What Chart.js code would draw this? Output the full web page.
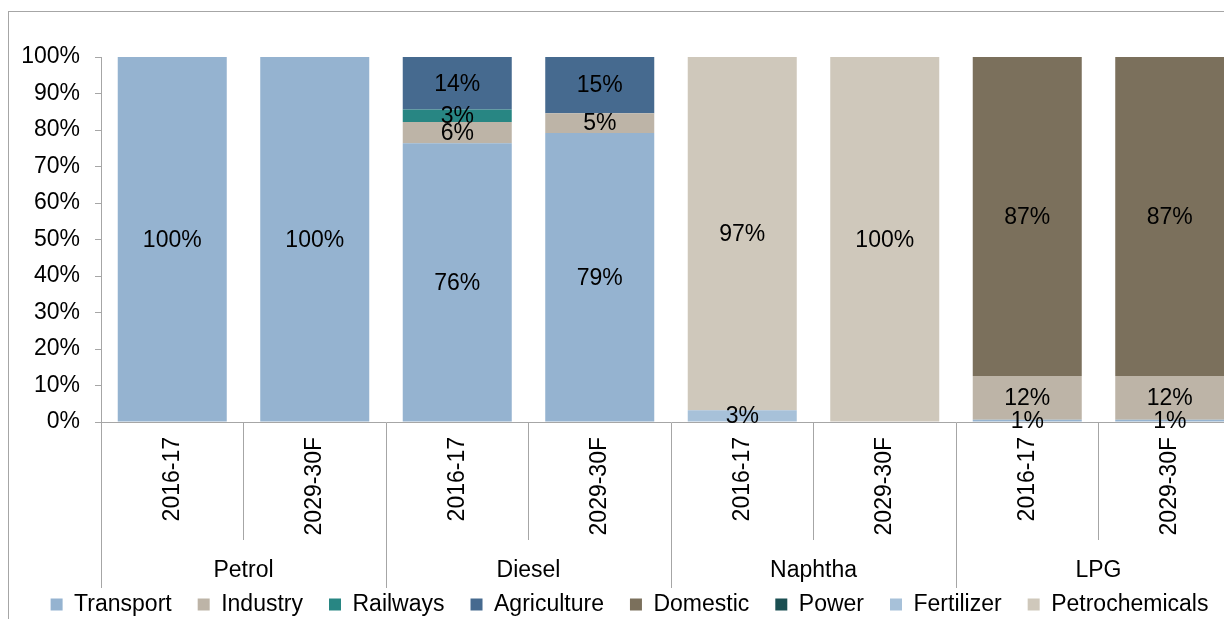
<!DOCTYPE html>
<html>
<head>
<meta charset="utf-8">
<script src="https://cdn.jsdelivr.net/npm/chart.js@4.4.1/dist/chart.umd.min.js"></script>
<style>
  html, body { margin: 0; padding: 0; background: #fff; overflow: hidden; width: 1224px; height: 619px; }
  #frame { position: absolute; left: 8px; top: 11px; width: 1400px; height: 800px;
           border-left: 1px solid #a6a6a6; border-top: 1px solid #a6a6a6; box-sizing: border-box; }
  #c { position: absolute; left: 0; top: 0; }
</style>
</head>
<body>
<div id="frame"></div>
<canvas id="c" width="1264" height="649"></canvas>
<script>
// Bars: two periods for each product
const periods = ['2016-17', '2029-30F', '2016-17', '2029-30F', '2016-17', '2029-30F', '2016-17', '2029-30F'];
const products = ['Petrol', 'Diesel', 'Naphtha', 'LPG'];

// Share of consumption by sector (%), one value per bar
const transport      = [100, 100, 76.4, 79.2, null, null, 0.6, 0.6];
const industry       = [null, null, 5.8, 5.4, null, null, 12.0, 12.0];
const railways       = [null, null, 3.4, null, null, null, null, null];
const agriculture    = [null, null, 14.4, 15.4, null, null, null, null];
const domestic       = [null, null, null, null, null, null, 87.4, 87.4];
const power          = [null, null, null, null, null, null, null, null];
const fertilizer     = [null, null, null, null, 3.2, null, null, null];
const petrochemicals = [null, null, null, null, 96.8, 100, null, null];

const yTicks = [0, 10, 20, 30, 40, 50, 60, 70, 80, 90, 100];

const FONT = '"Liberation Sans", Arial, sans-serif';
const AXIS_GREY = '#a6a6a6';
Chart.defaults.font.family = FONT;
Chart.defaults.font.size = 23;
Chart.defaults.color = '#000';

// Percentage written in the middle of every segment
const segmentLabels = {
  id: 'segmentLabels',
  afterDatasetsDraw(chart) {
    const ctx = chart.ctx;
    ctx.save();
    ctx.font = '23px ' + FONT;
    ctx.fillStyle = '#000';
    ctx.textAlign = 'center';
    ctx.textBaseline = 'middle';
    chart.data.datasets.forEach((ds, i) => {
      const meta = chart.getDatasetMeta(i);
      meta.data.forEach((el, j) => {
        const v = ds.data[j];
        if (v == null || v === 0) return;
        const p = el.getCenterPoint();
        ctx.fillText(Math.round(v) + '%', p.x, p.y + 1);
      });
    });
    ctx.restore();
  }
};

// Place the legend row centred under the whole frame, just below the product names
const LEGEND_SHIFT_X = 9;
const LEGEND_SHIFT_Y = -23;
const legendShift = {
  id: 'legendShift',
  afterLayout(chart) {
    const lg = chart.legend;
    lg.left += LEGEND_SHIFT_X;
    lg.right += LEGEND_SHIFT_X;
    lg.top += LEGEND_SHIFT_Y;
    lg.bottom += LEGEND_SHIFT_Y;
  }
};

const series = [
  ['Transport', transport, '#95b3d0'],
  ['Industry', industry, '#bdb4a7'],
  ['Railways', railways, '#288683'],
  ['Agriculture', agriculture, '#466a8f'],
  ['Domestic', domestic, '#7b705c'],
  ['Power', power, '#1b4f52'],
  ['Fertilizer', fertilizer, '#a7c1d9'],
  ['Petrochemicals', petrochemicals, '#cfc8bb']
];

new Chart(document.getElementById('c'), {
  type: 'bar',
  data: {
    labels: periods,
    datasets: series.map(([label, data, color]) => ({
      label, data,
      backgroundColor: color,
      borderWidth: 0,
      categoryPercentage: 1,
      barPercentage: 0.765
    }))
  },
  options: {
    responsive: false,
    animation: false,
    events: [],
    layout: { padding: { top: 57, right: 23, left: 0, bottom: 0 } },
    plugins: {
      tooltip: { enabled: false },
      legend: {
        position: 'bottom',
        labels: { boxWidth: 12, boxHeight: 12, padding: 26, color: '#000', font: { size: 23 } }
      }
    },
    scales: {
      x: {
        stacked: true,
        weight: 0,
        offset: true,
        grid: { offset: true, drawOnChartArea: false, tickLength: 118, color: AXIS_GREY },
        border: { color: AXIS_GREY },
        ticks: { autoSkip: false, minRotation: 90, maxRotation: 90, padding: -103, color: '#000', font: { size: 23 } },
        afterFit(s) { s.height = 118; }
      },
      x2: {
        type: 'category',
        labels: products,
        position: 'bottom',
        weight: 1,
        offset: true,
        grid: { offset: true, drawOnChartArea: false, tickLength: 48, color: AXIS_GREY },
        border: { display: false },
        ticks: { autoSkip: false, minRotation: 0, maxRotation: 0, padding: -31, color: '#000', font: { size: 23 } },
        afterFit(s) { s.height = 50; }
      },
      y: {
        stacked: true,
        min: 0,
        max: 100,
        afterBuildTicks(s) { s.ticks = yTicks.map(v => ({ value: v })); },
        grid: { drawOnChartArea: false, tickLength: 6, color: AXIS_GREY },
        border: { color: AXIS_GREY },
        ticks: { padding: 15, color: '#000', font: { size: 23 }, callback: v => v + '%' },
        afterFit(s) { s.width = 101; }
      }
    }
  },
  plugins: [segmentLabels, legendShift]
});
</script>
</body>
</html>
